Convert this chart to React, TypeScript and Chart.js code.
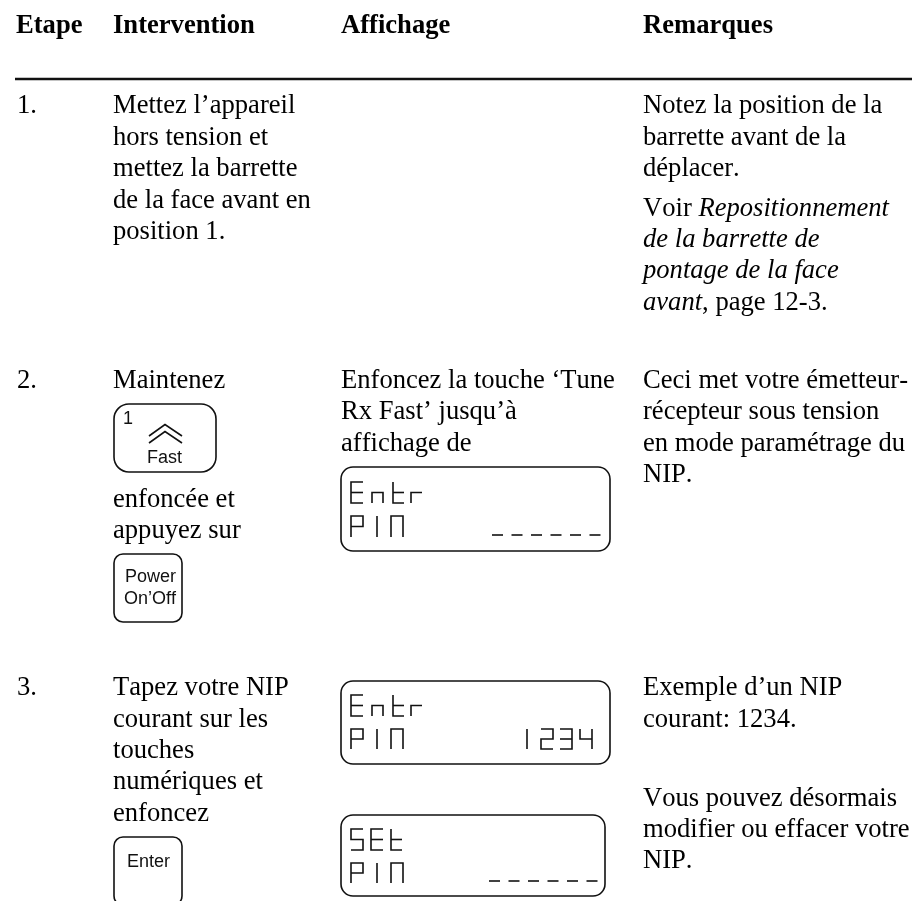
import React, { useEffect, useRef } from "react";
import { Chart, registerables } from "chart.js";

Chart.register(...registerables);

const SERIF = '"Liberation Serif"';
const SANS = '"Liberation Sans"';
const BODY = 26.6;

const headers: [number, string][] = [
  [16, "Etape"],
  [113, "Intervention"],
  [341, "Affichage"],
  [643, "Remarques"],
];

// [x, baseline y, style, text]
const bodyText: [number, number, string, string][] = [
  [17, 113, "", "1."],
  [113, 113, "", "Mettez l’appareil"],
  [113, 145, "", "hors tension et"],
  [113, 176, "", "mettez la barrette"],
  [113, 208, "", "de la face avant en"],
  [113, 239, "", "position 1."],
  [643, 113, "", "Notez la position de la"],
  [643, 145, "", "barrette avant de la"],
  [643, 176, "", "déplacer."],
  [643, 216, "", "Voir "],
  [643, 247, "italic", "de la barrette de"],
  [643, 278, "italic", "pontage de la face"],
  [17, 388, "", "2."],
  [113, 388, "", "Maintenez"],
  [341, 388, "", "Enfoncez la touche ‘Tune"],
  [341, 419, "", "Rx Fast’ jusqu’à"],
  [341, 451, "", "affichage de"],
  [643, 388, "", "Ceci met votre émetteur-"],
  [643, 419, "", "récepteur sous tension"],
  [643, 451, "", "en mode paramétrage du"],
  [643, 482, "", "NIP."],
  [113, 507, "", "enfoncée et"],
  [113, 538, "", "appuyez sur"],
  [17, 695, "", "3."],
  [113, 695, "", "Tapez votre NIP"],
  [113, 727, "", "courant sur les"],
  [113, 758, "", "touches"],
  [113, 789, "", "numériques et"],
  [113, 821, "", "enfoncez"],
  [643, 695, "", "Exemple d’un NIP"],
  [643, 727, "", "courant: 1234."],
  [643, 806, "", "Vous pouvez désormais"],
  [643, 837, "", "modifier ou effacer votre"],
  [643, 868, "", "NIP."],
];

const mixedLines: [number, number, string, string][] = [
  [643, 216, "Voir ", "Repositionnement"],
  [643, 310, "avant", ", page 12-3."],
];

// [x, y, w, h, radius]
const keyBoxes: [number, number, number, number, number][] = [
  [114, 404, 102, 68, 15],
  [114, 554, 68, 68, 9],
  [114, 837, 68, 68, 9],
];
const lcdBoxes: [number, number, number, number, number][] = [
  [341, 467, 269, 84, 12],
  [341, 681, 269, 83, 12],
  [341, 815, 264, 81, 12],
];

// [x, baseline y, size, text]
const keyText: [number, number, number, string][] = [
  [123, 424, 18, "1"],
  [147, 463, 18, "Fast"],
  [125, 582, 18, "Power"],
  [124, 604, 18, "On’Off"],
  [127, 867, 18, "Enter"],
];

const chevrons: [number, number][][] = [
  [[149, 436], [165, 424.5], [182, 436]],
  [[149, 443], [165, 431.5], [182, 443]],
];

const segments: Record<string, [number, number][][]> = {
  E: [[[1, 0], [0, 0], [0, 1], [1, 1]], [[0, 0.5], [1, 0.5]]],
  n: [[[0, 1], [0, 0.5], [1, 0.5], [1, 1]]],
  t: [[[0, 0], [0, 1], [1, 1]], [[0, 0.5], [1, 0.5]]],
  r: [[[0, 1], [0, 0.5], [1, 0.5]]],
  P: [[[0, 1], [0, 0], [1, 0], [1, 0.5], [0, 0.5]]],
  I: [[[0, 0], [0, 1]]],
  M: [[[0, 1], [0, 0], [1, 0], [1, 1]]],
  "2": [[[0, 0], [1, 0], [1, 0.5], [0, 0.5], [0, 1], [1, 1]]],
  "3": [[[0, 0], [1, 0], [1, 1], [0, 1]], [[0, 0.5], [1, 0.5]]],
  "4": [[[0, 0], [0, 0.5], [1, 0.5]], [[1, 0], [1, 1]]],
  S: [[[1, 0], [0, 0], [0, 0.5], [1, 0.5], [1, 1], [0, 1]]],
};

// [glyph, x, top y, w, h]
const lcdGlyphs: [string, number, number, number, number][] = [
  ["E", 351, 482, 12, 21], ["n", 372, 482, 11, 21], ["t", 393, 482, 11, 21], ["r", 411, 482, 11, 21],
  ["P", 351, 516, 12, 21], ["I", 377, 516, 0, 21], ["M", 391, 516, 12, 21],
  ["E", 351, 695, 12, 21], ["n", 372, 695, 11, 21], ["t", 393, 695, 11, 21], ["r", 411, 695, 11, 21],
  ["P", 351, 729, 12, 20], ["I", 377, 729, 0, 20], ["M", 391, 729, 12, 20],
  ["I", 527, 729, 0, 20], ["2", 541, 729, 12, 20], ["3", 560, 729, 12, 20], ["4", 580, 729, 12, 20],
  ["S", 351, 829, 12, 21], ["E", 371, 829, 12, 21], ["t", 391, 829, 11, 21],
  ["P", 351, 863, 12, 20], ["I", 377, 863, 0, 20], ["M", 391, 863, 12, 20],
];

// [first x, y, count, pitch, dash width]
const lcdDashes: [number, number, number, number, number][] = [
  [492, 535, 6, 19.5, 11],
  [489, 881, 6, 19.5, 11],
];

const ruleLine = [{ x: 15, y: 79 }, { x: 912, y: 79 }];

const tablePlugin = {
  id: "table",
  afterDatasetsDraw(chart: any) {
    const ctx = chart.ctx as CanvasRenderingContext2D;
    const X = (v: number) => chart.scales.x.getPixelForValue(v);
    const Y = (v: number) => chart.scales.y.getPixelForValue(v);
    ctx.save();
    ctx.fillStyle = "#000";
    ctx.strokeStyle = "#111";
    ctx.textBaseline = "alphabetic";
    ctx.textAlign = "left";
    (ctx as any).fontKerning = "none";

    ctx.font = `bold ${BODY}px ${SERIF}`;
    headers.forEach(([x, t]) => ctx.fillText(t, X(x), Y(33)));

    bodyText.forEach(([x, y, st, t]) => {
      ctx.font = `${st} ${BODY}px ${SERIF}`;
      ctx.fillText(t, X(x), Y(y));
    });
    const [a, b] = mixedLines;
    ctx.font = `${BODY}px ${SERIF}`;
    const w0 = ctx.measureText(a[2]).width;
    ctx.font = `italic ${BODY}px ${SERIF}`;
    ctx.fillText(a[3], X(a[0]) + w0, Y(a[1]));
    const w1 = ctx.measureText(b[2]).width;
    ctx.fillText(b[2], X(b[0]), Y(b[1]));
    ctx.font = `${BODY}px ${SERIF}`;
    ctx.fillText(b[3], X(b[0]) + w1, Y(b[1]));

    ctx.lineWidth = 1.6;
    [...keyBoxes, ...lcdBoxes].forEach(([x, y, w, h, r]) => {
      ctx.beginPath();
      ctx.roundRect(X(x), Y(y), X(x + w) - X(x), Y(y + h) - Y(y), r);
      ctx.stroke();
    });
    ctx.fillStyle = "#111";
    keyText.forEach(([x, y, s, t]) => {
      ctx.font = `${s}px ${SANS}`;
      ctx.fillText(t, X(x), Y(y));
    });
    chevrons.forEach((c) => {
      ctx.beginPath();
      c.forEach(([x, y], i) => (i ? ctx.lineTo(X(x), Y(y)) : ctx.moveTo(X(x), Y(y))));
      ctx.stroke();
    });
    lcdGlyphs.forEach(([g, x, y, w, h]) => {
      segments[g].forEach((poly) => {
        ctx.beginPath();
        poly.forEach(([u, v], i) => {
          const px = X(x + u * w);
          const py = Y(y + v * h);
          if (i) ctx.lineTo(px, py);
          else ctx.moveTo(px, py);
        });
        ctx.stroke();
      });
    });
    lcdDashes.forEach(([x, y, n, p, w]) => {
      for (let i = 0; i < n; i++) {
        ctx.beginPath();
        ctx.moveTo(X(x + i * p), Y(y));
        ctx.lineTo(X(x + i * p + w), Y(y));
        ctx.stroke();
      }
    });
    ctx.restore();
  },
};

export default function App() {
  const ref = useRef<HTMLCanvasElement>(null);
  useEffect(() => {
    const chart = new Chart(ref.current!, {
      type: "scatter",
      data: {
        datasets: [
          {
            data: ruleLine,
            showLine: true,
            borderColor: "#111",
            borderWidth: 2.5,
            pointRadius: 0,
          },
        ],
      },
      options: {
        animation: false,
        responsive: false,
        layout: { padding: 0 },
        plugins: { legend: { display: false }, tooltip: { enabled: false } },
        scales: {
          x: { type: "linear", min: 0, max: 912, display: false },
          y: { type: "linear", min: 0, max: 901, reverse: true, display: false },
        },
      },
      plugins: [tablePlugin],
    } as any);
    return () => chart.destroy();
  }, []);
  return (
    <div style={{ position: "fixed", left: 0, top: 0, width: 912, height: 901, background: "#fff" }}>
      <canvas ref={ref} width={912} height={901} style={{ display: "block" }} />
    </div>
  );
}
